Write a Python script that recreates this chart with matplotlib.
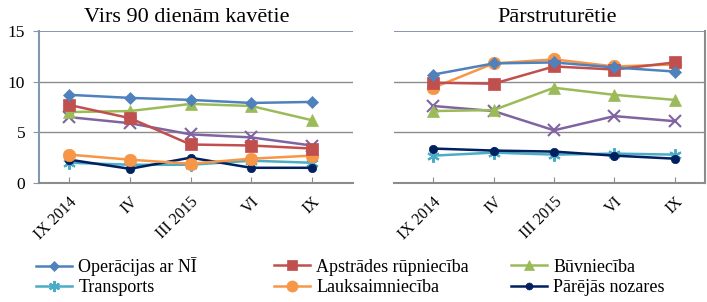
import matplotlib
matplotlib.use("Agg")
import matplotlib.pyplot as plt
from matplotlib.lines import Line2D

plt.rcParams['font.family'] = ['Liberation Serif', 'DejaVu Serif']

categories = ["IX 2014", "IV", "III 2015", "VI", "IX"]
titles = ["Virs 90 dienām kavētie", "Pārstruturētie"]

names = ["Operācijas ar NĪ", "Apstrādes rūpniecība", "Būvniecība",
         "Transports", "Lauksaimniecība", "Pārējās nozares", "Tirdzniecība"]

# Virs 90 dienām kavētie
overdue_op = [8.7, 8.4, 8.2, 7.9, 8.0]
overdue_manuf = [7.7, 6.4, 3.8, 3.7, 3.4]
overdue_constr = [7.0, 7.1, 7.8, 7.6, 6.2]
overdue_trans = [2.0, 1.8, 1.8, 2.2, 2.0]
overdue_agri = [2.8, 2.3, 1.9, 2.4, 2.7]
overdue_other = [2.3, 1.4, 2.5, 1.5, 1.5]
overdue_trade = [6.5, 5.9, 4.8, 4.5, 3.7]

# Pārstruturētie
restr_op = [10.7, 11.8, 11.9, 11.4, 11.0]
restr_manuf = [9.9, 9.8, 11.5, 11.2, 11.9]
restr_constr = [7.1, 7.2, 9.4, 8.7, 8.2]
restr_trans = [2.7, 3.0, 2.8, 2.9, 2.8]
restr_agri = [9.4, 11.8, 12.2, 11.5, 11.7]
restr_other = [3.4, 3.2, 3.1, 2.7, 2.4]
restr_trade = [7.6, 7.1, 5.2, 6.6, 6.1]

panels = [
    [overdue_op, overdue_manuf, overdue_constr, overdue_trans, overdue_agri, overdue_other, overdue_trade],
    [restr_op, restr_manuf, restr_constr, restr_trans, restr_agri, restr_other, restr_trade],
]

colors = ["#4F81BD", "#C0504D", "#9BBB59", "#4BACC6", "#F79646", "#002060", "#8064A2"]
markers = ["D", "s", "^", (6, 2, 0), "o", "o", "x"]
msizes = [6, 8, 8, 9, 9, 6, 8]
# draw order: trade behind, then others
order = [6, 3, 5, 4, 2, 1, 0]

fig = plt.figure(figsize=(7.07, 3.02), dpi=100)
ax1 = fig.add_axes([39 / 707, 1 - 183 / 302, 314 / 707, 152 / 302])
ax2 = fig.add_axes([394 / 707, 1 - 183 / 302, 311 / 707, 152 / 302])

x = list(range(len(categories)))
for ax, series, xlim in [(ax1, panels[0], (-0.5, 4.68)), (ax2, panels[1], (-0.65, 4.5))]:
    for i in order:
        ax.plot(x, series[i], color=colors[i], marker=markers[i], ms=msizes[i],
                lw=1.8, mew=1.5 if i in (3, 6) else 0.5, mec=colors[i], zorder=3)
    ax.set_xlim(*xlim)
    ax.set_ylim(0, 15)
    ax.set_yticks([0, 5, 10, 15])
    for yv in (5, 10):
        ax.axhline(yv, color="#8c8c8c", lw=1, zorder=1)
    ax.axhline(15, color="#6f83a6", lw=1.2, zorder=1)
    ax.set_xticks(x)
    ax.set_xticklabels(categories, rotation=45, ha="right", va="top",
                       rotation_mode="anchor", fontsize=11.5)
    ax.tick_params(axis="x", direction="in", length=4, color="#8c8c8c", pad=8)
    for s in ("top", "right", "left"):
        ax.spines[s].set_visible(False)
    ax.spines["bottom"].set_color("#8c8c8c")
    ax.spines["bottom"].set_linewidth(1.5)

ax1.spines["left"].set_visible(True)
ax1.spines["left"].set_color("#8497b0")
ax1.spines["left"].set_linewidth(1.5)
ax1.tick_params(axis="y", direction="out", length=4, color="#8497b0", labelsize=12.5, pad=6)
ax2.tick_params(axis="y", left=False, labelleft=False)
ax2.spines["right"].set_visible(True)
ax2.spines["right"].set_color("#8c8c8c")
ax2.spines["right"].set_linewidth(1.5)

fig.text(187 / 707, 1 - 18 / 302, titles[0], ha="center", va="center", fontsize=16)
fig.text(557 / 707, 1 - 18 / 302, titles[1], ha="center", va="center", fontsize=16)

handles = []
for i in range(6):
    handles.append(Line2D([], [], color=colors[i], marker=markers[i],
                          ms=msizes[i] - 1, lw=1.8, mew=1.5 if i == 3 else 0.5,
                          mec=colors[i], label=names[i]))

# legend in a 3x2 grid with fixed positions, like the original layout
col_x = [36, 274, 511]
row_y = [267, 288]
for k in range(6):
    row, col = divmod(k, 3)
    fig.legend([handles[k]], [names[k]], loc="center left",
               bbox_to_anchor=(col_x[col] / 707, 1 - row_y[row] / 302),
               frameon=False, fontsize=13, handlelength=2.0, handletextpad=0.35,
               borderaxespad=0, borderpad=0)

fig.savefig("out.png", dpi=100)
